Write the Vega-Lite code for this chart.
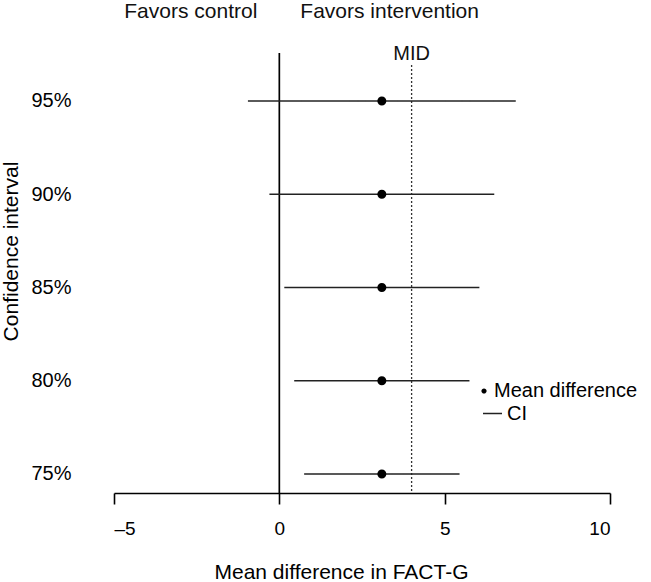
{
  "$schema": "https://vega.github.io/schema/vega-lite/v6.json",
  "autosize": {"type": "none"},
  "width": 496,
  "height": 440,
  "padding": {"left": 114, "top": 53, "right": 41, "bottom": 89},
  "background": "white",
  "config": {
    "font": "Liberation Sans",
    "view": {"stroke": null},
    "axis": {"grid": false, "labelColor": "black", "titleColor": "black", "titleFontWeight": "normal", "labelFontWeight": "normal"}
  },
  "data": {
    "values": [
      {"level": 95, "mean": 3.1, "lower": -0.95, "upper": 7.15},
      {"level": 90, "mean": 3.1, "lower": -0.3, "upper": 6.5},
      {"level": 85, "mean": 3.1, "lower": 0.15, "upper": 6.05},
      {"level": 80, "mean": 3.1, "lower": 0.45, "upper": 5.75},
      {"level": 75, "mean": 3.1, "lower": 0.75, "upper": 5.45}
    ]
  },
  "layer": [
    {
      "data": {"values": [{}]},
      "mark": {"type": "rule", "color": "black", "strokeWidth": 1.7},
      "encoding": {
        "x": {"datum": 0, "type": "quantitative"}
      }
    },
    {
      "data": {"values": [{}]},
      "mark": {"type": "rule", "color": "#333333", "strokeWidth": 1.3, "strokeDash": [2, 2]},
      "encoding": {
        "x": {"datum": 4, "type": "quantitative"},
        "y": {"datum": 96.93, "type": "quantitative"},
        "y2": {"datum": 73.98}
      }
    },
    {
      "data": {"values": [{}]},
      "mark": {"type": "text", "text": "MID", "fontSize": 20, "fontWeight": 400, "align": "center", "baseline": "alphabetic", "fill": "#111111"},
      "encoding": {
        "x": {"datum": 4, "type": "quantitative"},
        "y": {"datum": 97.2, "type": "quantitative"}
      }
    },
    {
      "data": {"values": [{}]},
      "mark": {"type": "text", "text": "Favors control", "fontSize": 21, "fontWeight": 400, "align": "right", "baseline": "alphabetic", "dx": -22, "fill": "#111111"},
      "encoding": {
        "x": {"datum": 0, "type": "quantitative"},
        "y": {"datum": 99.45, "type": "quantitative"}
      }
    },
    {
      "data": {"values": [{}]},
      "mark": {"type": "text", "text": "Favors intervention", "fontSize": 21, "fontWeight": 400, "align": "left", "baseline": "alphabetic", "dx": 21, "fill": "#111111"},
      "encoding": {
        "x": {"datum": 0, "type": "quantitative"},
        "y": {"datum": 99.45, "type": "quantitative"}
      }
    },
    {
      "mark": {"type": "rule", "color": "#222222", "strokeWidth": 1.6},
      "encoding": {
        "x": {
          "field": "lower",
          "type": "quantitative",
          "scale": {"domain": [-5, 10], "nice": false, "zero": false},
          "axis": {
            "values": [-5, 0, 5, 10],
            "labelExpr": "datum.value < 0 ? '\u2013' + abs(datum.value) : datum.label",
            "domainColor": "black",
            "domainWidth": 1.6,
            "tickColor": "black",
            "tickWidth": 1.6,
            "tickSize": 11,
            "labelFontSize": 19,
            "labelBaseline": "alphabetic",
            "labelPadding": 30,
            "title": "Mean difference in FACT-G",
            "titleFontSize": 21,
            "titleX": 227,
            "titleY": 85,
            "titleAlign": "center",
            "titleBaseline": "alphabetic"
          }
        },
        "x2": {"field": "upper"},
        "y": {
          "field": "level",
          "type": "quantitative",
          "scale": {"domain": [73.98, 97.57], "nice": false, "zero": false},
          "axis": {
            "values": [75, 80, 85, 90, 95],
            "labelExpr": "datum.value + '%'",
            "ticks": false,
            "domain": false,
            "labelFontSize": 20,
            "labelPadding": 43,
            "title": "Confidence interval",
            "titleFontSize": 21,
            "titleX": -103,
            "titleY": 198,
            "titleAlign": "center",
            "titleBaseline": "middle"
          }
        },
        "strokeDash": {
          "datum": "CI",
          "scale": {"domain": ["CI"], "range": [[1, 0]]},
          "legend": {
            "title": null,
            "orient": "none",
            "legendX": 368,
            "legendY": 350,
            "padding": 0,
            "symbolType": "stroke",
            "symbolSize": 361,
            "symbolStrokeColor": "#222222",
            "symbolStrokeWidth": 1.5,
            "labelFontSize": 20,
            "labelColor": "black",
            "labelOffset": 4
          }
        }
      }
    },
    {
      "mark": {"type": "point", "filled": true, "color": "black", "size": 900, "opacity": 1},
      "encoding": {
        "x": {"field": "mean", "type": "quantitative"},
        "y": {"field": "level", "type": "quantitative"},
        "shape": {
          "datum": "Mean difference",
          "scale": {
            "domain": ["Mean difference"],
            "range": ["M-0.3,0A0.3,0.3 0 1,0 0.3,0A0.3,0.3 0 1,0 -0.3,0Z"]
          },
          "legend": {
            "title": null,
            "orient": "none",
            "legendX": 360,
            "legendY": 328,
            "padding": 0,
            "symbolSize": 300,
            "symbolFillColor": "black",
            "symbolOpacity": 1,
            "labelFontSize": 20,
            "labelColor": "black",
            "labelOffset": 0
          }
        }
      }
    }
  ]
}
